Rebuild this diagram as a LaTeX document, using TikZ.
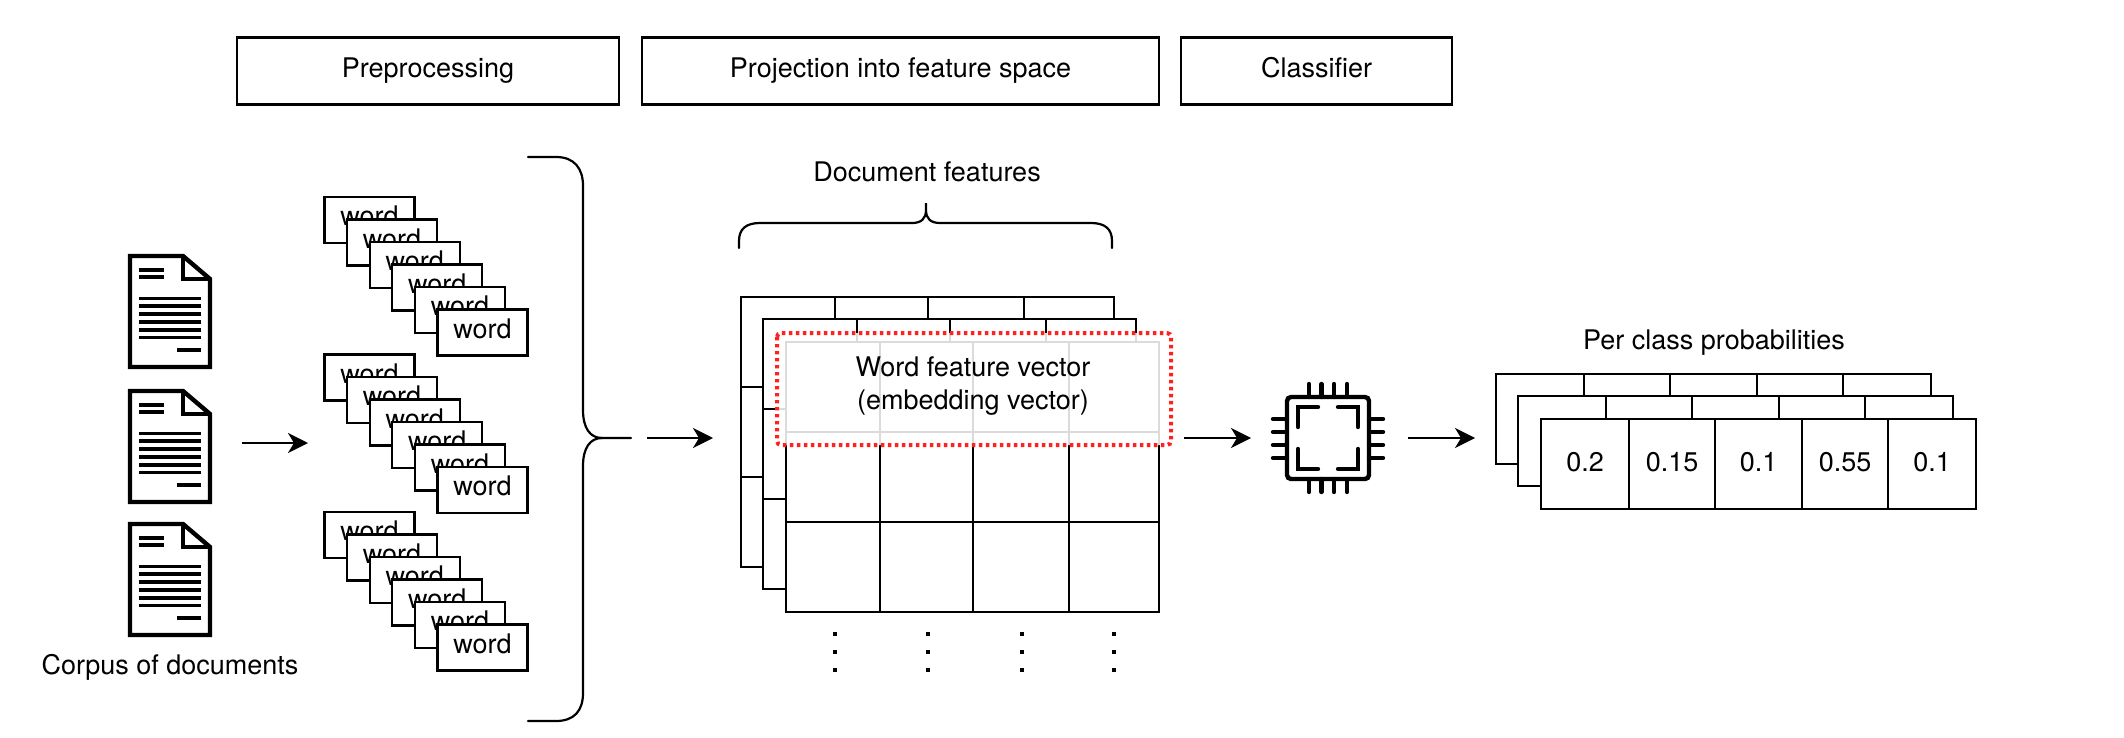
\documentclass[tikz,border=0pt]{standalone}
\usepackage{fontspec}
\setmainfont{TeX Gyre Heros}
\usetikzlibrary{arrows.meta}

\definecolor{hired}{HTML}{FF2020}

\tikzset{
  txt/.style={font=\fontsize{13.5}{16.5}\selectfont, inner sep=0pt, align=center},
  stagebox/.style={draw, line width=1.2pt, txt, minimum height=33.5pt, text height=9.5pt, text depth=2.5pt},
  wordbox/.style={draw, fill=white, line width=1.1pt, txt, minimum width=45pt, minimum height=23pt, text height=7.3pt, text depth=1.5pt},
  cell/.style={draw, fill=white, line width=1.1pt},
  flow/.style={line width=1.2pt, -{Stealth[length=10pt, width=10pt, inset=3pt]}},
  brace/.style={line width=1.1pt, line cap=round},
  icon/.style={line width=2.2pt, line cap=round}
}

\newcommand{\docicon}[1]{%
  \begin{scope}[yshift=-#1*0.5pt]
    \draw[line width=2.2pt, fill=white] (130,256) -- (183,256) -- (210,279) -- (210,367) -- (130,367) -- cycle;
    \draw[line width=2.2pt] (183,256) -- (183,279) -- (210,279);
    \draw[line width=1.8pt] (139,270) -- (164,270);
    \draw[line width=1.8pt] (139,277) -- (164,277);
    \foreach \y in {298.5,306.2,314,322,330,337.5}
      \draw[line width=1.8pt] (139,\y) -- (201,\y);
    \draw[line width=1.8pt] (177,350) -- (201,350);
  \end{scope}}

\begin{document}
\begin{tikzpicture}[x=0.5pt, y=-0.5pt]
  \useasboundingbox (0,0) rectangle (2124,738);

  % stages on top
  \node[stagebox, minimum width=191pt] (prep) at (428,71) {Preprocessing};
  \node[stagebox, minimum width=258.5pt] (proj) at (900.5,71) {Projection into feature space};
  \node[stagebox, minimum width=135.5pt] (clf) at (1316.5,71) {Classifier};

  % corpus
  \docicon{0}
  \docicon{135}
  \docicon{268}
  \node[txt] (corpus) at (170,667) {Corpus of documents};

  % words, three stacks
  \foreach \s in {0,1,2}
    \foreach \i in {0,...,5}
      \node[wordbox] (word\s\i) at ({369.5+22.6*\i},{220+22.5*\i+157.5*\s}) {word};

  % big brace
  \coordinate (bigtip) at (631,438);
  \draw[brace] (528,157) -- (556,157) .. controls (574,157) and (583,168) .. (583,186) -- (583,410)
    .. controls (583,428) and (590,438) .. (602,438) -- (bigtip);
  \draw[brace] (602,438) .. controls (590,438) and (583,448) .. (583,466) -- (583,693)
    .. controls (583,711) and (574,721) .. (556,721) -- (528,721);

  % feature layers
  \foreach \d in {-45,-23,0} {
    \begin{scope}[shift={(\d,\d)}]
      \foreach \a/\b in {786/880,880/973,973/1069,1069/1159}
        \foreach \t in {342,432,522}
          \draw[cell] (\a,\t) rectangle (\b,\t+90);
    \end{scope}
  }

  % dots below the grid
  \foreach \x in {835,928,1022,1114}
    \foreach \y in {634,652,670}
      \fill (\x-2.2,\y-2.2) rectangle (\x+2.2,\y+2.2);

  % highlighted row
  \draw[draw=hired, fill=white, fill opacity=0.86, draw opacity=1, line width=2pt,
    dash pattern=on 1.7pt off 1.8pt, rounded corners=2pt] (777,333) rectangle (1171,445);
  \node[txt] (wordvec) at (973,386.5) {Word feature vector\\(embedding vector)};

  % document brace
  \draw[brace] (739,248) -- (739,241) .. controls (739,229) and (746,223) .. (760,223) -- (912,223)
    .. controls (921,223) and (926,219) .. (926,210) -- (926,203) -- (926,210) .. controls (926,219) and (931,223) .. (940,223)
    -- (1091,223) .. controls (1105,223) and (1112,229) .. (1112,241) -- (1112,248);
  \node[txt] (docfeat) at (927,172) {Document features};

  % classifier chip
  \draw[line width=2.2pt, rounded corners=2pt] (1287,397) rectangle (1369,479);
  \foreach \x in {1309,1321.5,1334,1347}
    \draw[icon] (\x,384) -- (\x,397) (\x,479) -- (\x,492);
  \foreach \y in {419,432,445,458}
    \draw[icon] (1273,\y) -- (1287,\y) (1369,\y) -- (1383,\y);
  \draw[icon] (1318,407) -- (1298,407) -- (1298,427);
  \draw[icon] (1338,407) -- (1358,407) -- (1358,427);
  \draw[icon] (1318,469) -- (1298,469) -- (1298,449);
  \draw[icon] (1338,469) -- (1358,469) -- (1358,449);

  % probability layers
  \foreach \d in {-45,-23,0} {
    \begin{scope}[shift={(\d,\d)}]
      \foreach \a/\b in {1541/1629,1629/1715,1715/1802,1802/1888,1888/1976}
        \draw[cell] (\a,419) rectangle (\b,509);
    \end{scope}
  }
  \node[txt] (pa) at (1585,462) {0.2};
  \node[txt] (pb) at (1672,462) {0.15};
  \node[txt] (pc) at (1758.5,462) {0.1};
  \node[txt] (pd) at (1845,462) {0.55};
  \node[txt] (pe) at (1932,462) {0.1};
  \node[txt] (perclass) at (1714,343) {Per class probabilities};

  % arrows
  \coordinate (a1) at (242,443);
  \coordinate (a2) at (308,443);
  \coordinate (b1) at (647,438);
  \coordinate (b2) at (713,438);
  \coordinate (c1) at (1184,438);
  \coordinate (c2) at (1251,438);
  \coordinate (d1) at (1408,438);
  \coordinate (d2) at (1475,438);
  \draw[flow] (a1) -- (a2);
  \draw[flow] (b1) -- (b2);
  \draw[flow] (c1) -- (c2);
  \draw[flow] (d1) -- (d2);
\end{tikzpicture}
\end{document}
